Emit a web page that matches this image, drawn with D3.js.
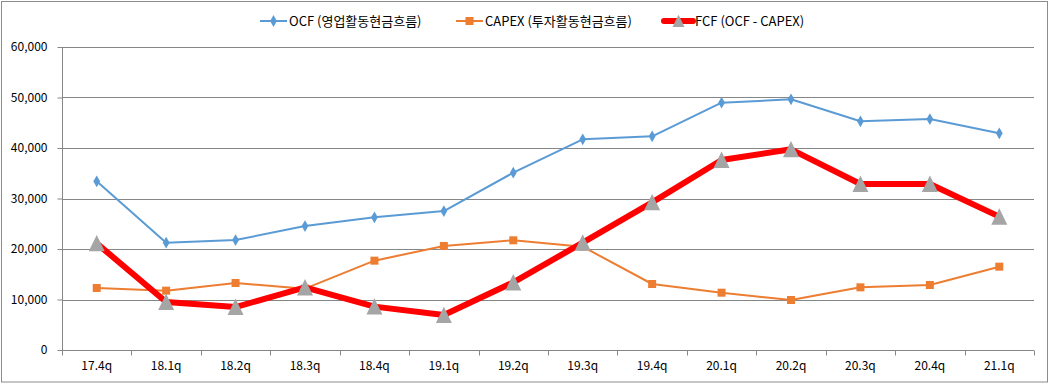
<!DOCTYPE html>
<html>
<head>
<meta charset="utf-8">
<script src="https://cdn.jsdelivr.net/npm/d3@7"></script>
<style>
  body { margin: 0; background: #fff; }
  svg { display: block; }
  text { font-family: "Noto Sans CJK KR", "Noto Sans", sans-serif; fill: #000; }
</style>
</head>
<body>
<div class="chartContainer"></div>
<script>
const quarters = ['17.4q', '18.1q', '18.2q', '18.3q', '18.4q', '19.1q', '19.2q',
                  '19.3q', '19.4q', '20.1q', '20.2q', '20.3q', '20.4q', '21.1q'];

const ocf   = [33400, 21250, 21780, 24550, 26280, 27520, 35110,
               41720, 42320, 48970, 49640, 45290, 45740, 42910];
const capex = [12280, 11750, 13270, 12150, 17690, 20600, 21720,
               20460, 13070, 11350, 9900, 12410, 12870, 16500];
const fcf   = [21120, 9500, 8510, 12400, 8590, 6920, 13390,
               21260, 29250, 37620, 39740, 32880, 32870, 26410];

const yTicks = [0, 10000, 20000, 30000, 40000, 50000, 60000];

const seriesNames = ['OCF (영업활동현금흐름)', 'CAPEX (투자활동현금흐름)', 'FCF (OCF - CAPEX)'];

window.addEventListener("load", () => {
  drawChart();
});

function drawChart() {
  const W = 1050, H = 384;
  const margin = { top: 47, right: 16, bottom: 34, left: 62 },
    width = 1034 - margin.left,
    height = 350 - margin.top;

  const svg = d3.select(".chartContainer")
    .append("svg")
    .attr("width", W)
    .attr("height", H);

  // outer chart border
  svg.append("rect")
    .attr("x", 1.5).attr("y", 1.5)
    .attr("width", W - 4).attr("height", H - 3.5)
    .attr("fill", "none")
    .attr("stroke", "#8c8c8c")
    .attr("stroke-width", 1);

  const g = svg.append("g")
    .attr("transform", "translate(" + margin.left + "," + margin.top + ")");

  const x = d3.scaleBand().domain(quarters).range([0, width]);
  const y = d3.scaleLinear().domain([0, 60000]).range([height, 0]);
  const cx = d => x(d) + x.bandwidth() / 2;

  // gridlines
  g.append("g")
    .selectAll("line")
    .data(yTicks.filter(t => t > 0))
    .enter()
    .append("line")
    .attr("x1", 0).attr("x2", width)
    .attr("y1", d => Math.round(y(d)) + 0.5)
    .attr("y2", d => Math.round(y(d)) + 0.5)
    .attr("stroke", "#868686")
    .attr("stroke-width", 1);

  // y axis
  const yAxis = d3.axisLeft(y)
    .tickValues(yTicks)
    .tickSize(5)
    .tickPadding(10)
    .tickFormat(d3.format(","));
  const yg = g.append("g").attr("transform", "translate(0.5,0)").call(yAxis);
  yg.select(".domain").attr("stroke", "#868686").attr("d", "M0," + height + "V0");
  yg.selectAll(".tick line").attr("stroke", "#868686");
  yg.selectAll(".tick text")
    .style("font-size", "12px")
    .attr("fill", "#000");

  // x axis
  const xAxis = d3.axisBottom(x).tickSize(0).tickPadding(11);
  const xg = g.append("g").attr("transform", "translate(0," + (height + 0.5) + ")").call(xAxis);
  xg.select(".domain").attr("stroke", "#868686").attr("d", "M0,0H" + width);
  xg.selectAll(".tick text").style("font-size", "12px").attr("fill", "#000");
  xg.append("g")
    .selectAll("line")
    .data(quarters.concat(["end"]))
    .enter()
    .append("line")
    .attr("x1", (d, i) => Math.round(i * x.step()) + 0.5)
    .attr("x2", (d, i) => Math.round(i * x.step()) + 0.5)
    .attr("y1", 0).attr("y2", 5)
    .attr("stroke", "#868686");

  const line = d3.line().x((d, i) => cx(quarters[i])).y(d => y(d));

  // OCF
  g.append("path")
    .datum(ocf)
    .attr("d", line)
    .attr("fill", "none")
    .attr("stroke", "#5B9BD5")
    .attr("stroke-width", 2)
    .attr("stroke-linejoin", "round");
  g.selectAll(".ocfPt")
    .data(ocf)
    .enter()
    .append("path")
    .attr("class", "ocfPt")
    .attr("d", d3.symbol(d3.symbolDiamond, 40))
    .attr("transform", (d, i) => "translate(" + cx(quarters[i]) + "," + y(d) + ")")
    .attr("fill", "#5B9BD5");

  // CAPEX
  g.append("path")
    .datum(capex)
    .attr("d", line)
    .attr("fill", "none")
    .attr("stroke", "#ED7D31")
    .attr("stroke-width", 2)
    .attr("stroke-linejoin", "round");
  g.selectAll(".capexPt")
    .data(capex)
    .enter()
    .append("rect")
    .attr("class", "capexPt")
    .attr("x", (d, i) => cx(quarters[i]) - 4)
    .attr("y", d => y(d) - 4)
    .attr("width", 8).attr("height", 8)
    .attr("fill", "#ED7D31");

  // FCF
  g.append("path")
    .datum(fcf)
    .attr("d", line)
    .attr("fill", "none")
    .attr("stroke", "#FF0000")
    .attr("stroke-width", 6)
    .attr("stroke-linejoin", "round");
  const tri = (px, py, s) => "M" + px + "," + (py - s * 1.05) + "L" + (px + s) + "," + (py + s * 1.0) + "L" + (px - s) + "," + (py + s * 1.0) + "Z";
  g.selectAll(".fcfPt")
    .data(fcf)
    .enter()
    .append("path")
    .attr("class", "fcfPt")
    .attr("d", (d, i) => tri(cx(quarters[i]), y(d), 8))
    .attr("fill", "#A5A5A5");

  // legend
  const legend = svg.append("g").attr("class", "legend");
  const legY = 21;
  const legItems = [
    { name: seriesNames[0], x0: 260, x1: 287, color: "#5B9BD5", w: 2, marker: "diamond" },
    { name: seriesNames[1], x0: 456, x1: 483, color: "#ED7D31", w: 2, marker: "square" },
    { name: seriesNames[2], x0: 664, x1: 693, color: "#FF0000", w: 6, marker: "triangle" }
  ];
  legItems.forEach(it => {
    legend.append("line")
      .attr("x1", it.x0).attr("x2", it.x1)
      .attr("y1", legY).attr("y2", legY)
      .attr("stroke", it.color)
      .attr("stroke-width", it.w)
      .attr("stroke-linecap", it.w > 3 ? "round" : "butt");
    const mx = (it.x0 + it.x1) / 2;
    if (it.marker === "diamond") {
      legend.append("path")
        .attr("d", d3.symbol(d3.symbolDiamond, 40))
        .attr("transform", "translate(" + mx + "," + legY + ")")
        .attr("fill", it.color);
    } else if (it.marker === "square") {
      legend.append("rect")
        .attr("x", mx - 4).attr("y", legY - 4)
        .attr("width", 8).attr("height", 8)
        .attr("fill", it.color);
    } else {
      legend.append("path")
        .attr("d", tri(mx, legY, 6))
        .attr("fill", "#A5A5A5");
    }
    legend.append("text")
      .attr("x", it.x1 + 2)
      .attr("y", legY)
      .attr("dy", "0.35em")
      .style("font-size", "13px")
      .text(it.name);
  });
}
</script>
</body>
</html>
